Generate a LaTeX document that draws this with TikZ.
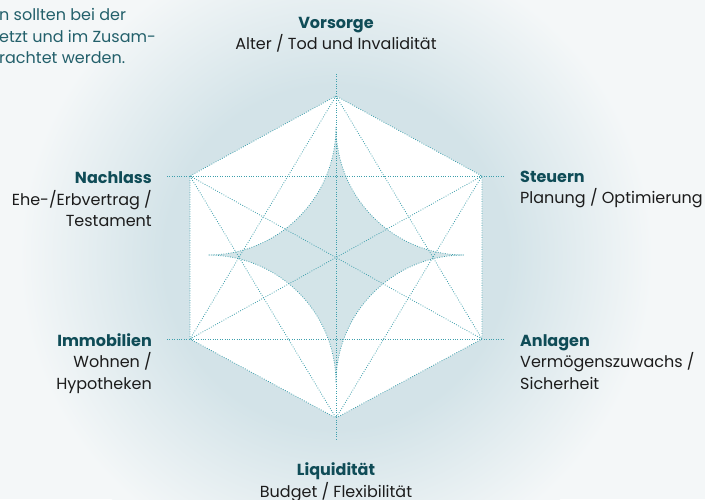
\documentclass[tikz,border=0pt]{standalone}
\usepackage{fontspec}
\setmainfont{Poppins}
\usetikzlibrary{positioning}
\definecolor{bgpale}{HTML}{F4F7F8}
\definecolor{halo}{HTML}{D3E3E8}
\definecolor{starfill}{HTML}{D3E4E8}
\definecolor{dotteal}{HTML}{3E9FAC}
\definecolor{headteal}{HTML}{0F4C57}
\definecolor{bodytext}{HTML}{1C1C1C}
\definecolor{introteal}{HTML}{23606B}
\pgfdeclareradialshading{haloshade}{\pgfpoint{0bp}{0bp}}{color(0bp)=(halo); color(13bp)=(halo); color(24bp)=(bgpale); color(25bp)=(bgpale); color(50bp)=(bgpale)}
\newcommand{\cathead}[1]{{\color{headteal}\bfseries #1}}

\begin{document}
\begin{tikzpicture}[x=1pt, y=1pt,
    dotline/.style={draw=dotteal, line width=0.8pt, dash pattern=on 0.8pt off 1.6pt},
    lbl/.style={inner sep=0pt, font=\fontsize{16}{21.5}\selectfont, text=bodytext}]
    \fill[bgpale] (0,0) rectangle (705,499);
    \useasboundingbox (0,0) rectangle (705,499);
    \shade[shading=haloshade] (336,242) circle (330);

    \coordinate (top) at (336,403);
    \coordinate (ul) at (190,323);
    \coordinate (ll) at (190,160);
    \coordinate (bot) at (336,81);
    \coordinate (lr) at (482,160);
    \coordinate (ur) at (482,323);
    \coordinate (vtop) at (336,425);
    \coordinate (vbot) at (336,58);
    \coordinate (hl1) at (167,323);
    \coordinate (hr1) at (504,323);
    \coordinate (hl2) at (167,160);
    \coordinate (hr2) at (504,160);

    \fill[white, rounded corners=2pt] (top) -- (ul) -- (ll) -- (bot) -- (lr) -- (ur) -- cycle;
    \draw[dotline, fill=starfill] (336,372) arc[start angle=0, end angle=-90, radius=128]
        arc[start angle=90, end angle=0, radius=128]
        arc[start angle=180, end angle=90, radius=128]
        arc[start angle=270, end angle=180, radius=128] -- cycle;

    \draw[dotline, rounded corners=2pt] (top) -- (ul) -- (ll) -- (bot) -- (lr) -- (ur) -- cycle;
    \foreach \a/\b in {top/ll, top/lr, ul/bot, ur/bot, ul/lr, ur/ll}
        \draw[dotline] (\a) -- (\b);
    \draw[dotline] (vtop) -- (vbot);
    \draw[dotline] (hl1) -- (hr1);
    \draw[dotline] (hl2) -- (hr2);

    \node[lbl, align=center, anchor=base] (vors) at (336,449) {\cathead{Vorsorge}\\Alter / Tod und Invalidität};
    \node[lbl, align=right, anchor=base east] (nach) at (152,272) {\cathead{Nachlass}\\Ehe-/Erbvertrag /\\Testament};
    \node[lbl, align=left, anchor=base west] (steu) at (520,295) {\cathead{Steuern}\\Planung / Optimierung};
    \node[lbl, align=right, anchor=base east] (immo) at (152,110) {\cathead{Immobilien}\\Wohnen /\\Hypotheken};
    \node[lbl, align=left, anchor=base west] (anla) at (520,110) {\cathead{Anlagen}\\Vermögenszuwachs /\\Sicherheit};
    \node[lbl, align=center, anchor=base] (liqu) at (336,2) {\cathead{Liquidität}\\Budget / Flexibilität};
    \node[lbl, align=left, anchor=base west, text=introteal] (intro) at (-1,435) {n sollten bei der\\etzt und im Zusam-\\rachtet werden.};
\end{tikzpicture}
\end{document}
